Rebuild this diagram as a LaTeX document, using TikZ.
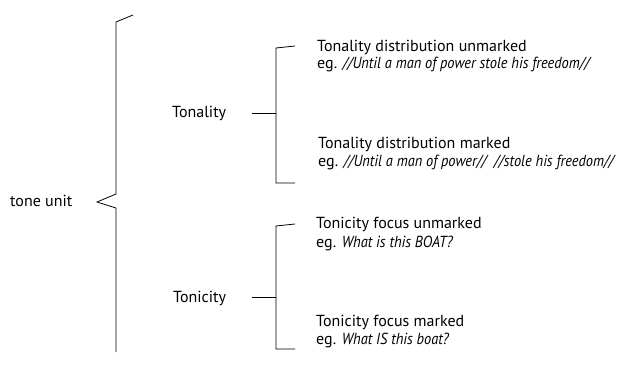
\documentclass[tikz,border=0pt]{standalone}
\usepackage{graphicx}
\usepackage{fontspec}
\setmainfont{PT Sans}
% examples are set in a narrower italic
\newcommand\exmp[1]{\scalebox{0.9}[1]{\itshape #1}}
\begin{document}
\begin{tikzpicture}[x=1pt,y=-1pt,
  line/.style={draw=black,line width=0.8pt},
  lbl/.style={font=\fontsize{16}{19}\selectfont,inner sep=0pt,anchor=base west}]
\useasboundingbox (0,0) rectangle (635,380);

% labels
\node[lbl] (tu) at (10,206) {tone unit};
\node[lbl] (tal) at (172,117) {Tonality};
\node[lbl] (tic) at (173,302) {Tonicity};

\node[lbl] (a1) at (317,51) {Tonality distribution unmarked};
\node[lbl] (a2) at (317,68) {eg. \exmp{//Until a man of power stole his freedom//}};
\node[lbl] (b1) at (318,148) {Tonality distribution marked};
\node[lbl] (b2) at (318,166) {eg. \exmp{//Until a man of power//\ \ //stole his freedom//}};
\node[lbl] (c1) at (316,228) {Tonicity focus unmarked};
\node[lbl] (c2) at (316,247) {eg. \exmp{What is this BOAT?}};
\node[lbl] (d1) at (316,326) {Tonicity focus marked};
\node[lbl] (d2) at (316,344) {eg. \exmp{What IS this boat?}};

% main brace
\coordinate (bt) at (133,15);
\coordinate (bp) at (97,202);
\coordinate (bb) at (116,352);
\draw[line] (bt) -- (116,22) -- (116,194) -- (bp) -- (116,208) -- (bb);

% tonality bracket
\draw[line] (295,46) -- (276,48) -- (276,183) -- (295,183);
\draw[line] (252,113) -- (276,113);

% tonicity bracket
\draw[line] (295,224) -- (276,226) -- (276,349) -- (295,349);
\draw[line] (252,297) -- (276,297);
\end{tikzpicture}
\end{document}
